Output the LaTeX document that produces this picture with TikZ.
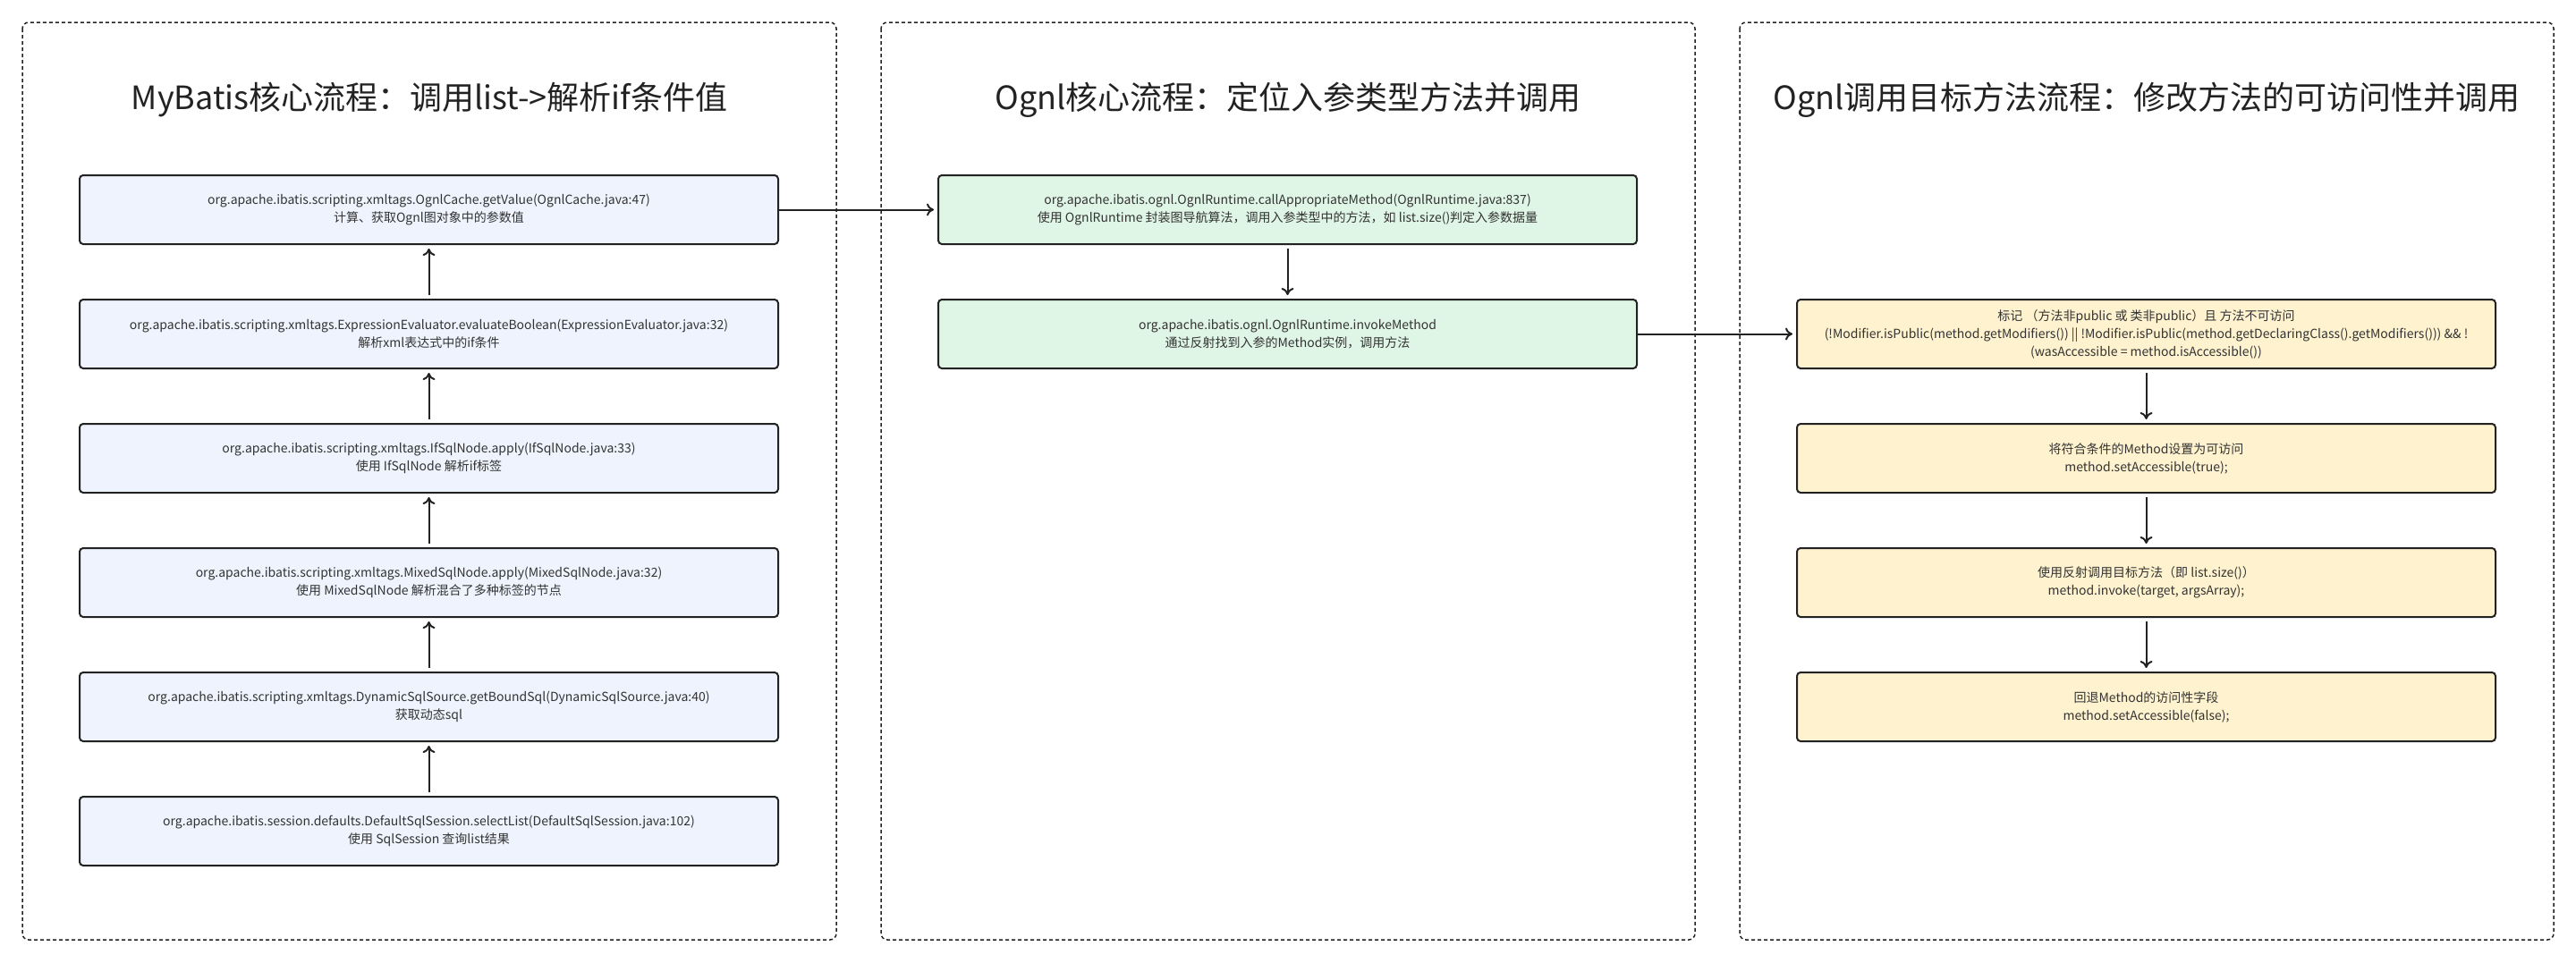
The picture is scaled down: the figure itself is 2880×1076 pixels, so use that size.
\documentclass[tikz,border=0pt]{standalone}
\usepackage{fontspec}
\setmainfont{Noto Sans CJK SC}
\usetikzlibrary{arrows.meta}
\definecolor{boxblue}{HTML}{EEF3FD}
\definecolor{boxgreen}{HTML}{DFF5E5}
\definecolor{boxyellow}{HTML}{FEF2CF}
\definecolor{linegray}{HTML}{222222}
\definecolor{textgray}{HTML}{333333}

\begin{document}
\begin{tikzpicture}[x=1pt,y=-1pt,
    panel/.style={draw=linegray,line width=1.5pt,dash pattern=on 4pt off 3pt,rounded corners=7pt},
    paneltitle/.style={text=linegray,font=\fontsize{36}{42}\selectfont},
    callbox/.style={draw=linegray,line width=2pt,rounded corners=4pt,minimum width=781pt,
      minimum height=77pt,align=center,text=textgray,font=\fontsize{14}{20}\selectfont},
    flow/.style={draw=linegray,line width=2pt,-{To[length=8pt,width=14pt]},shorten <=4pt,shorten >=4pt}]
    \useasboundingbox (0,0) rectangle (2880,1076);
    \foreach \x/\t [count=\k] in {480/{MyBatis核心流程：调用list->解析if条件值},
      1440/{Ognl核心流程：定位入参类型方法并调用},
      2400/{Ognl调用目标方法流程：修改方法的可访问性并调用}}
    {\draw[panel] (\x-455,25) rectangle (\x+455,1051);
     \node[paneltitle] (title\k) at (\x,112) {\t};}
    \foreach \i/\a/\b in {
      1/org.apache.ibatis.scripting.xmltags.OgnlCache.getValue(OgnlCache.java:47)/计算、获取Ognl图对象中的参数值,
      2/org.apache.ibatis.scripting.xmltags.ExpressionEvaluator.evaluateBoolean(ExpressionEvaluator.java:32)/解析xml表达式中的if条件,
      3/org.apache.ibatis.scripting.xmltags.IfSqlNode.apply(IfSqlNode.java:33)/使用 IfSqlNode 解析if标签,
      4/org.apache.ibatis.scripting.xmltags.MixedSqlNode.apply(MixedSqlNode.java:32)/使用 MixedSqlNode 解析混合了多种标签的节点,
      5/org.apache.ibatis.scripting.xmltags.DynamicSqlSource.getBoundSql(DynamicSqlSource.java:40)/获取动态sql,
      6/org.apache.ibatis.session.defaults.DefaultSqlSession.selectList(DefaultSqlSession.java:102)/使用 SqlSession 查询list结果}
    \node[callbox,fill=boxblue] (mb\i) at (479.5,{234.5+139*(\i-1)}) {\a\\\b};
    \foreach \i/\j in {2/1,3/2,4/3,5/4,6/5}
    \draw[flow] (mb\i) -- (mb\j);
    \node[callbox,fill=boxgreen] (og1) at (1439.5,234.5)
      {org.apache.ibatis.ognl.OgnlRuntime.callAppropriateMethod(OgnlRuntime.java:837)\\
       使用 OgnlRuntime 封装图导航算法，调用入参类型中的方法，如 list.size()判定入参数据量};
    \node[callbox,fill=boxgreen] (og2) at (1439.5,373.5)
      {org.apache.ibatis.ognl.OgnlRuntime.invokeMethod\\通过反射找到入参的Method实例，调用方法};
    \draw[flow] (og1) -- (og2);
    \node[callbox,fill=boxyellow] (acc1) at (2399.5,373.5)
      {标记 （方法非public 或 类非public）且 方法不可访问\\
       (!Modifier.isPublic(method.getModifiers()) || !Modifier.isPublic(method.getDeclaringClass().getModifiers())) \&\& !\\
       (wasAccessible = method.isAccessible())};
    \node[callbox,fill=boxyellow] (acc2) at (2399.5,512.5)
      {将符合条件的Method设置为可访问\\method.setAccessible(true);};
    \node[callbox,fill=boxyellow] (acc3) at (2399.5,651.5)
      {使用反射调用目标方法（即 list.size()）\\method.invoke(target, argsArray);};
    \node[callbox,fill=boxyellow] (acc4) at (2399.5,790.5)
      {回退Method的访问性字段\\method.setAccessible(false);};
    \foreach \i/\j in {1/2,2/3,3/4}
    \draw[flow] (acc\i) -- (acc\j);
    \draw[flow,shorten <=0pt] (mb1) -- (og1);
    \draw[flow,shorten <=0pt] (og2) -- (acc1);
\end{tikzpicture}
\end{document}
